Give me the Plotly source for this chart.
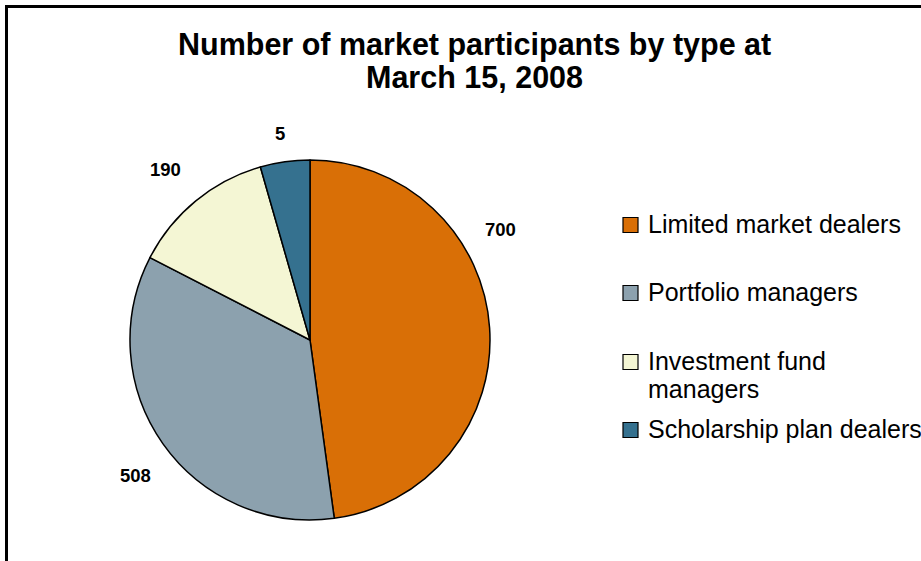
import math
import plotly.graph_objects as go

# ---- data ----
categories = ["Limited market dealers", "Portfolio managers",
              "Investment fund managers", "Scholarship plan dealers"]
legend_labels = [["Limited market dealers"], ["Portfolio managers"],
                 ["Investment fund", "managers"], ["Scholarship plan dealers"]]
values = [700, 508, 190, 65]          # slice sizes as drawn
value_labels = ["700", "508", "190", "5"]  # labels as printed on the chart
colors = ["#D96F06", "#8CA1AE", "#F4F6D4", "#35718F"]

title_lines = ["Number of market participants by type at", "March 15, 2008"]

# ---- layout constants (pixels) ----
W, H = 921, 561
CX, CY, R = 310, 340, 180
LABEL_R = 220
FONT = "Liberation Sans, Arial, sans-serif"


def px(x):
    return x / W


def py(y):
    return 1 - y / H


fig = go.Figure()
fig.add_trace(go.Pie(
    labels=categories,
    values=values,
    sort=False,
    direction="clockwise",
    rotation=0,
    marker=dict(colors=colors, line=dict(color="black", width=1.5)),
    textinfo="none",
    hoverinfo="label+value",
    showlegend=False,
    domain=dict(x=[px(CX - R), px(CX + R)], y=[py(CY + R), py(CY - R)]),
))

annotations = []
# data labels: placed around the pie at the slice mid-angles, with manual
# placement (as in the original chart) where the label was moved
total = sum(values)
cum = 0
label_override = {0: (500, 230), 1: (135, 475), 2: (165, 170), 3: (280, 133)}
for i, (v, t) in enumerate(zip(values, value_labels)):
    mid = (cum + v / 2) / total * 2 * math.pi
    cum += v
    lx = CX + LABEL_R * math.sin(mid)
    ly = CY - LABEL_R * math.cos(mid)
    if i in label_override:
        lx, ly = label_override[i]
    annotations.append(dict(
        x=px(lx), y=py(ly), xref="paper", yref="paper",
        text="<b>%s</b>" % t, showarrow=False,
        xanchor="center", yanchor="middle",
        font=dict(family=FONT, size=18.5, color="black"),
    ))

# title (two lines)
for line, ty in zip(title_lines, [45, 77]):
    annotations.append(dict(
        x=px(474), y=py(ty), xref="paper", yref="paper",
        text="<b>%s</b>" % line, showarrow=False,
        xanchor="center", yanchor="middle",
        font=dict(family=FONT, size=30.5, color="black"),
    ))

# custom legend
shapes = []
legend_y = [225, 293, 362, 430]
LEGEND_LINE = 28
for lines, col, ty in zip(legend_labels, colors, legend_y):
    shapes.append(dict(
        type="rect", xref="paper", yref="paper",
        x0=px(623), x1=px(638), y0=py(ty - 7.5), y1=py(ty + 7.5),
        fillcolor=col, line=dict(color="black", width=1.2),
    ))
    for k, ln in enumerate(lines):
        annotations.append(dict(
            x=px(646), y=py(ty - 1 + k * LEGEND_LINE), xref="paper", yref="paper",
            text=ln, showarrow=False, align="left",
            xanchor="left", yanchor="middle",
            font=dict(family=FONT, size=25, color="black"),
        ))

# outer frame (cropped at right and bottom)
shapes.append(dict(
    type="rect", xref="paper", yref="paper",
    x0=px(6.5), x1=px(W + 20), y0=py(H + 20), y1=py(6.5),
    line=dict(color="black", width=3), fillcolor="rgba(0,0,0,0)",
))

fig.update_layout(
    width=W, height=H,
    margin=dict(l=0, r=0, t=0, b=0),
    paper_bgcolor="white", plot_bgcolor="white",
    annotations=annotations, shapes=shapes,
    showlegend=False,
)

fig.write_html(
    "out.html",
    config={"displayModeBar": False},
    post_script="document.body.style.margin='0';document.body.style.overflow='hidden';",
)
